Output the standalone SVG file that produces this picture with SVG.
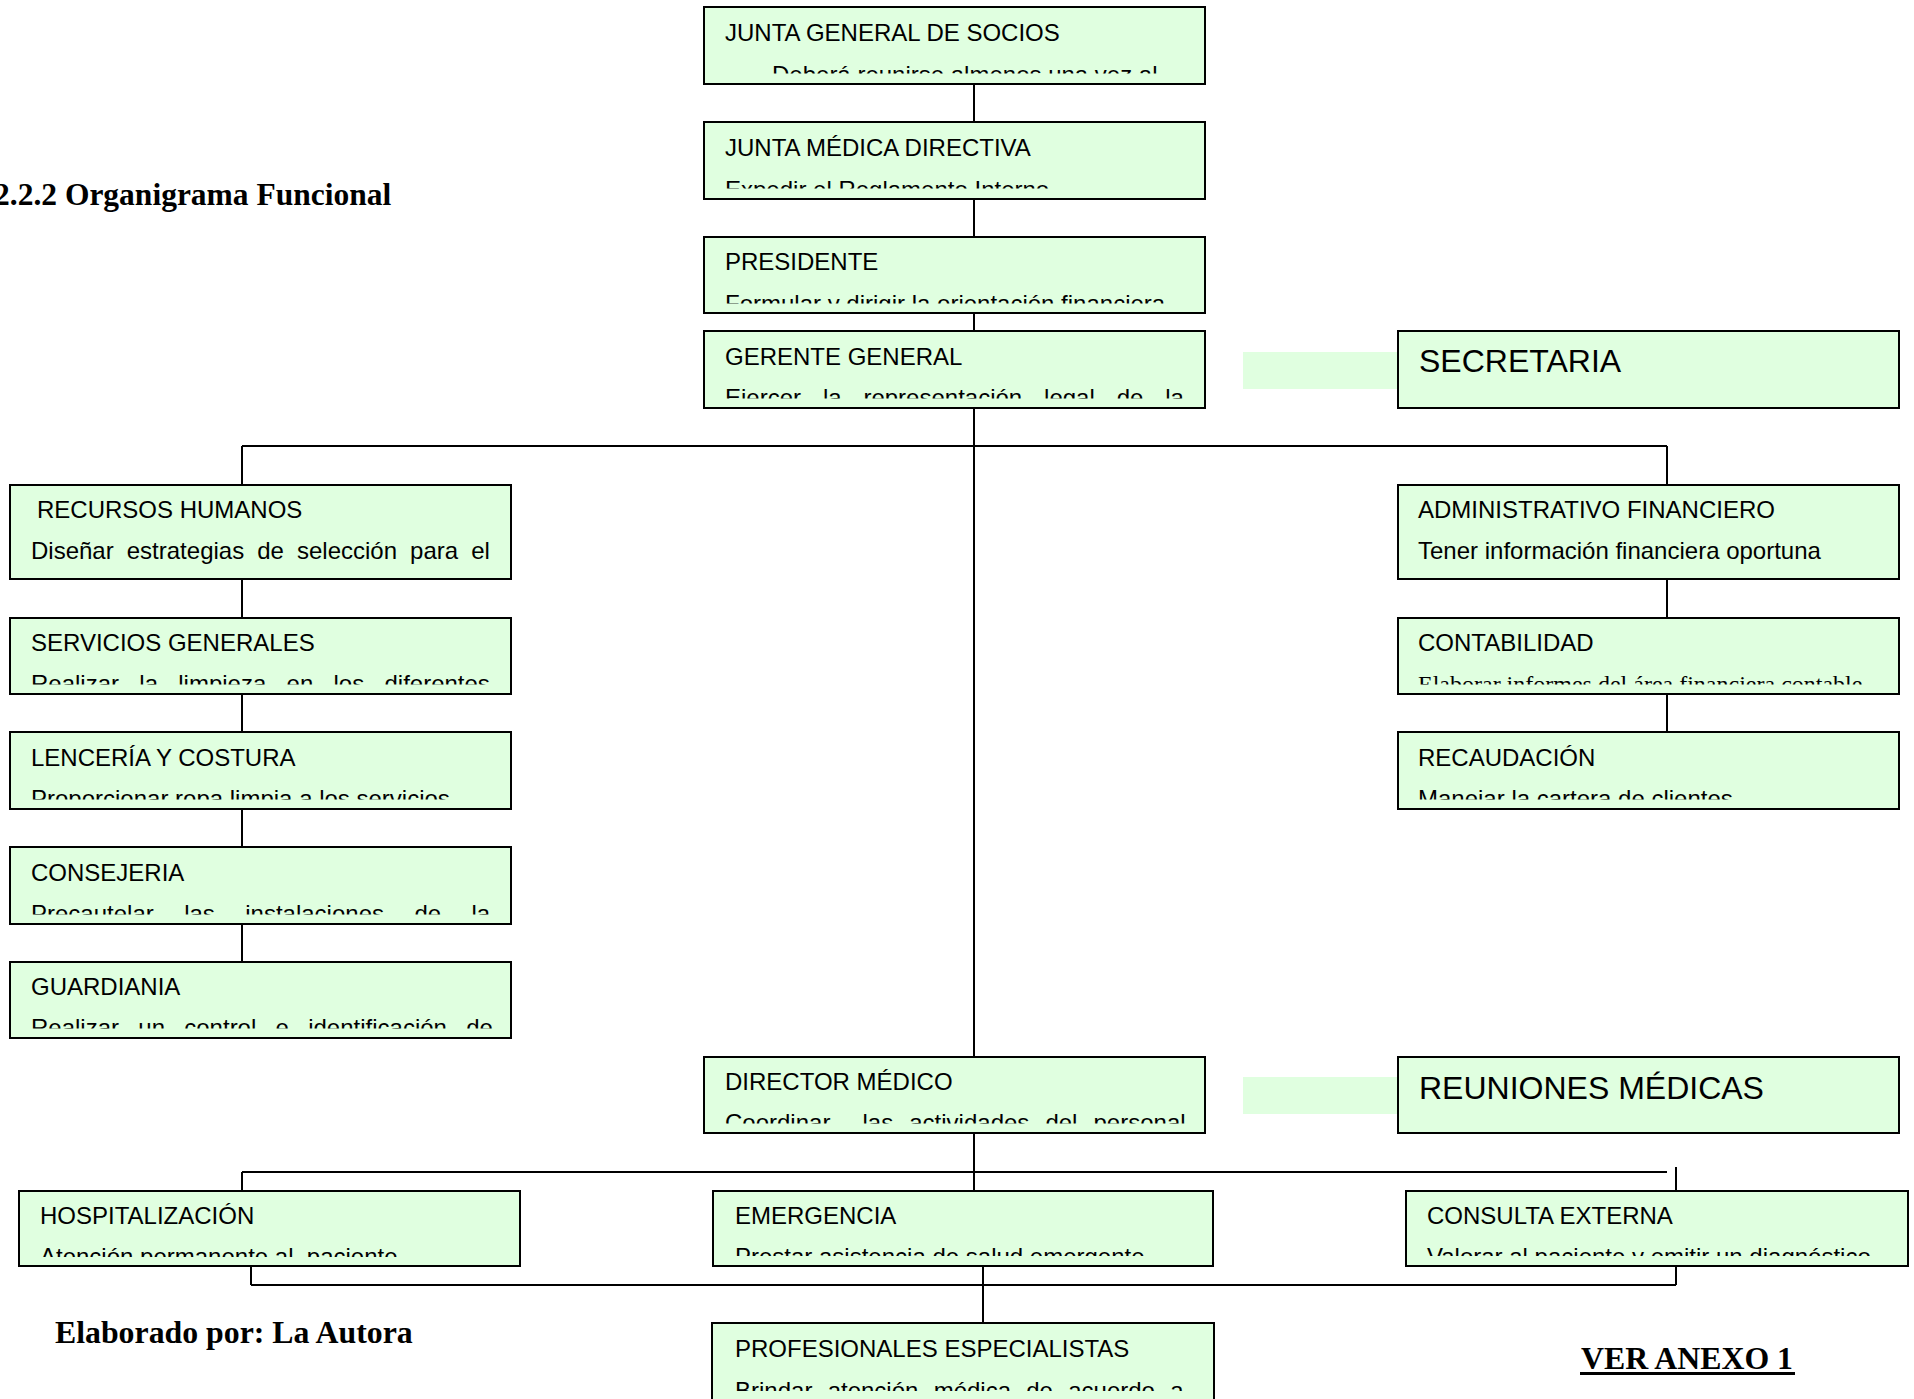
<svg xmlns="http://www.w3.org/2000/svg" width="1914" height="1399" viewBox="0 0 1914 1399">
  <style>
    .box { fill: #E0FFE0; stroke: #000; stroke-width: 2; }
    .strip { fill: #E0FFE0; stroke: none; }
    .ln { stroke: #000; stroke-width: 2; fill: none; }
    .t { font-family: "Liberation Sans", Arial, sans-serif; font-size: 24px; fill: #000; }
    .big { font-family: "Liberation Sans", Arial, sans-serif; font-size: 32px; fill: #000; }
    .ts { font-family: "Liberation Serif", "Times New Roman", serif; font-size: 24px; fill: #000; }
    .hd { font-family: "Liberation Serif", "Times New Roman", serif; font-size: 31.8px; font-weight: bold; fill: #000; }
  </style>
  <defs>
    <!-- description frames: the text is cut at the lower edge of each frame -->
    <clipPath id="c-jgs" clipPathUnits="userSpaceOnUse"><rect x="704" y="7" width="501" height="66.5"/></clipPath>
    <clipPath id="c-jmd" clipPathUnits="userSpaceOnUse"><rect x="704" y="122" width="501" height="66.5"/></clipPath>
    <clipPath id="c-pres" clipPathUnits="userSpaceOnUse"><rect x="704" y="237" width="501" height="66.5"/></clipPath>
    <clipPath id="c-ger" clipPathUnits="userSpaceOnUse"><rect x="704" y="331" width="501" height="67.5"/></clipPath>
    <clipPath id="c-sg" clipPathUnits="userSpaceOnUse"><rect x="10" y="618" width="501" height="66.5"/></clipPath>
    <clipPath id="c-cont" clipPathUnits="userSpaceOnUse"><rect x="1398" y="618" width="501" height="66.5"/></clipPath>
    <clipPath id="c-lenc" clipPathUnits="userSpaceOnUse"><rect x="10" y="732" width="501" height="67.5"/></clipPath>
    <clipPath id="c-rec" clipPathUnits="userSpaceOnUse"><rect x="1398" y="732" width="501" height="67.5"/></clipPath>
    <clipPath id="c-cons" clipPathUnits="userSpaceOnUse"><rect x="10" y="847" width="501" height="67.5"/></clipPath>
    <clipPath id="c-guard" clipPathUnits="userSpaceOnUse"><rect x="10" y="962" width="501" height="66.5"/></clipPath>
    <clipPath id="c-dir" clipPathUnits="userSpaceOnUse"><rect x="704" y="1057" width="501" height="66.5"/></clipPath>
    <clipPath id="c-hosp" clipPathUnits="userSpaceOnUse"><rect x="19" y="1191" width="501" height="66"/></clipPath>
    <clipPath id="c-emer" clipPathUnits="userSpaceOnUse"><rect x="713" y="1191" width="500" height="65"/></clipPath>
    <clipPath id="c-cext" clipPathUnits="userSpaceOnUse"><rect x="1406" y="1191" width="502" height="65"/></clipPath>
    <clipPath id="c-prof" clipPathUnits="userSpaceOnUse"><rect x="712" y="1323" width="502" height="68"/></clipPath>
  </defs>

  <rect width="1914" height="1399" fill="#fff"/>

  <!-- captions -->
  <text class="hd" x="-6" y="205" style="font-size:31.5px">2.2.2 Organigrama Funcional</text>
  <text class="hd" x="55" y="1343">Elaborado por: La Autora</text>
  <text class="hd" x="1581" y="1369">VER ANEXO 1</text>
  <rect x="1580" y="1372" width="215" height="3" fill="#000"/>

  <!-- connectors -->
  <g id="connectors">
    <line class="ln" x1="974" y1="84" x2="974" y2="122"/>
    <line class="ln" x1="974" y1="199" x2="974" y2="237"/>
    <line class="ln" x1="974" y1="313" x2="974" y2="331"/>
    <line class="ln" x1="974" y1="408" x2="974" y2="1057"/>
    <line class="ln" x1="242" y1="446" x2="1667" y2="446"/>
    <line class="ln" x1="242" y1="446" x2="242" y2="485"/>
    <line class="ln" x1="1667" y1="446" x2="1667" y2="485"/>
    <line class="ln" x1="242" y1="579" x2="242" y2="618"/>
    <line class="ln" x1="242" y1="694" x2="242" y2="732"/>
    <line class="ln" x1="242" y1="809" x2="242" y2="847"/>
    <line class="ln" x1="242" y1="924" x2="242" y2="962"/>
    <line class="ln" x1="1667" y1="579" x2="1667" y2="618"/>
    <line class="ln" x1="1667" y1="694" x2="1667" y2="732"/>
    <line class="ln" x1="974" y1="1133" x2="974" y2="1191"/>
    <line class="ln" x1="242" y1="1172" x2="1667" y2="1172"/>
    <line class="ln" x1="242" y1="1172" x2="242" y2="1191"/>
    <line class="ln" x1="1676" y1="1167" x2="1676" y2="1191"/>
    <line class="ln" x1="251" y1="1285" x2="1676" y2="1285"/>
    <line class="ln" x1="251" y1="1266" x2="251" y2="1285"/>
    <line class="ln" x1="1676" y1="1266" x2="1676" y2="1285"/>
    <line class="ln" x1="983" y1="1266" x2="983" y2="1323"/>
  </g>

  <g id="junta-general">
    <rect class="box" x="704" y="7" width="501" height="77"/>
    <text class="t" x="725" y="41">JUNTA GENERAL DE SOCIOS</text>
    <text class="t" x="772" y="83" clip-path="url(#c-jgs)">Deberá reunirse almenos una vez al</text>
  </g>

  <g id="junta-medica">
    <rect class="box" x="704" y="122" width="501" height="77"/>
    <text class="t" x="725" y="156">JUNTA MÉDICA DIRECTIVA</text>
    <text class="t" x="725" y="198" clip-path="url(#c-jmd)">Expedir el Reglamento Interno</text>
  </g>

  <g id="presidente">
    <rect class="box" x="704" y="237" width="501" height="76"/>
    <text class="t" x="725" y="270">PRESIDENTE</text>
    <text class="t" x="725" y="312" clip-path="url(#c-pres)">Formular y dirigir la orientación financiera</text>
  </g>

  <g id="gerente">
    <rect class="box" x="704" y="331" width="501" height="77"/>
    <text class="t" x="725" y="365">GERENTE GENERAL</text>
    <text class="t" x="725" y="406" word-spacing="15.2" clip-path="url(#c-ger)">Ejercer la representación legal de la</text>
  </g>

  <g id="secretaria">
    <rect class="strip" x="1243" y="352" width="155" height="37"/>
    <rect class="box" x="1398" y="331" width="501" height="77"/>
    <text class="big" x="1419" y="372">SECRETARIA</text>
  </g>

  <g id="recursos-humanos">
    <rect class="box" x="10" y="485" width="501" height="94"/>
    <text class="t" x="37" y="518">RECURSOS HUMANOS</text>
    <text class="t" x="31" y="559" word-spacing="6.4">Diseñar estrategias de selección para el</text>
  </g>

  <g id="administrativo-financiero">
    <rect class="box" x="1398" y="485" width="501" height="94"/>
    <text class="t" x="1418" y="518">ADMINISTRATIVO FINANCIERO</text>
    <text class="t" x="1418" y="559">Tener información financiera oportuna</text>
  </g>

  <g id="servicios-generales">
    <rect class="box" x="10" y="618" width="501" height="76"/>
    <text class="t" x="31" y="651">SERVICIOS GENERALES</text>
    <text class="t" x="31" y="692" word-spacing="13.6" clip-path="url(#c-sg)">Realizar la limpieza en los diferentes</text>
  </g>

  <g id="contabilidad">
    <rect class="box" x="1398" y="618" width="501" height="76"/>
    <text class="t" x="1418" y="651">CONTABILIDAD</text>
    <text class="ts" x="1418" y="692" clip-path="url(#c-cont)">Elaborar informes del área financiera contable</text>
  </g>

  <g id="lenceria">
    <rect class="box" x="10" y="732" width="501" height="77"/>
    <text class="t" x="31" y="766">LENCERÍA Y COSTURA</text>
    <text class="t" x="31" y="807" clip-path="url(#c-lenc)">Proporcionar ropa limpia a los servicios</text>
  </g>

  <g id="recaudacion">
    <rect class="box" x="1398" y="732" width="501" height="77"/>
    <text class="t" x="1418" y="766">RECAUDACIÓN</text>
    <text class="t" x="1418" y="807" clip-path="url(#c-rec)">Manejar la cartera de clientes</text>
  </g>

  <g id="consejeria">
    <rect class="box" x="10" y="847" width="501" height="77"/>
    <text class="t" x="31" y="881">CONSEJERIA</text>
    <text class="t" x="31" y="922" word-spacing="23.75" clip-path="url(#c-cons)">Precautelar las instalaciones de la</text>
  </g>

  <g id="guardiania">
    <rect class="box" x="10" y="962" width="501" height="76"/>
    <text class="t" x="31" y="995">GUARDIANIA</text>
    <text class="t" x="31" y="1036" word-spacing="12.6" clip-path="url(#c-guard)">Realizar un control e identificación de</text>
  </g>

  <g id="director-medico">
    <rect class="box" x="704" y="1057" width="501" height="76"/>
    <text class="t" x="725" y="1090">DIRECTOR MÉDICO</text>
    <text class="t" x="725" y="1131" word-spacing="9.4" xml:space="preserve" clip-path="url(#c-dir)">Coordinar  las actividades del personal</text>
  </g>

  <g id="reuniones-medicas">
    <rect class="strip" x="1243" y="1077" width="155" height="37"/>
    <rect class="box" x="1398" y="1057" width="501" height="76"/>
    <text class="big" x="1419" y="1099">REUNIONES MÉDICAS</text>
  </g>

  <g id="hospitalizacion">
    <rect class="box" x="19" y="1191" width="501" height="75"/>
    <text class="t" x="40" y="1224">HOSPITALIZACIÓN</text>
    <text class="t" x="40" y="1265" xml:space="preserve" clip-path="url(#c-hosp)">Atención permanente al  paciente</text>
  </g>

  <g id="emergencia">
    <rect class="box" x="713" y="1191" width="500" height="75"/>
    <text class="t" x="735" y="1224">EMERGENCIA</text>
    <text class="t" x="735" y="1265" clip-path="url(#c-emer)">Prestar asistencia de salud emergente</text>
  </g>

  <g id="consulta-externa">
    <rect class="box" x="1406" y="1191" width="502" height="75"/>
    <text class="t" x="1427" y="1224">CONSULTA EXTERNA</text>
    <text class="t" x="1427" y="1265" clip-path="url(#c-cext)">Valorar al paciente y emitir un diagnóstico</text>
  </g>

  <g id="profesionales">
    <rect class="box" x="712" y="1323" width="502" height="100"/>
    <text class="t" x="735" y="1357">PROFESIONALES ESPECIALISTAS</text>
    <text class="t" x="735" y="1399" word-spacing="8.6" clip-path="url(#c-prof)">Brindar atención médica de acuerdo a</text>
  </g>
</svg>
